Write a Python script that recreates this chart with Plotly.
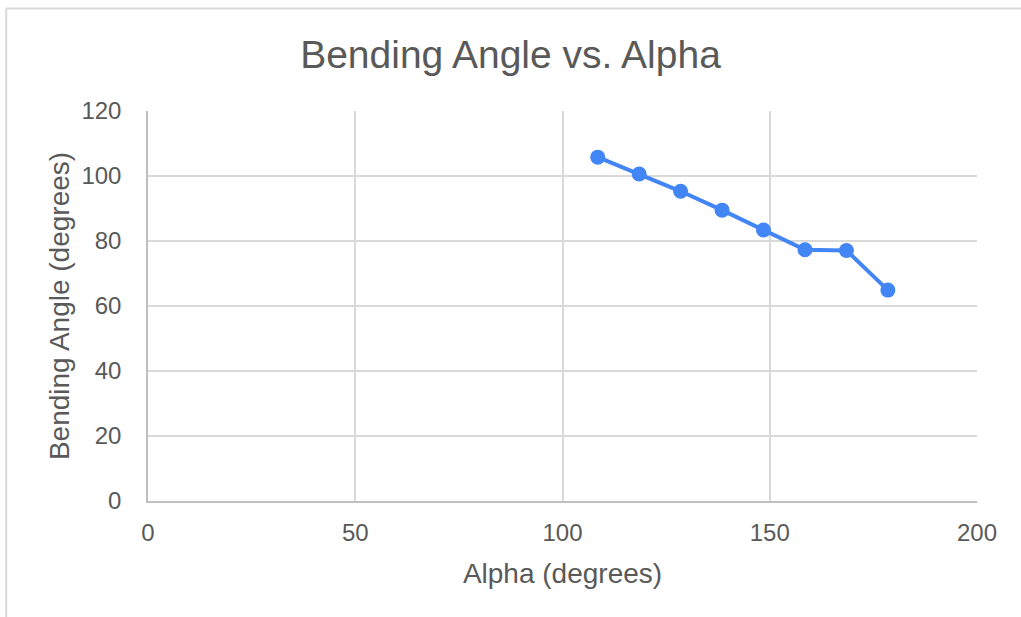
import plotly.graph_objects as go

alpha = [108.5, 118.5, 128.5, 138.5, 148.5, 158.5, 168.5, 178.5]
bending = [105.8, 100.6, 95.3, 89.5, 83.4, 77.3, 77.1, 64.9]

x_ticks = [0, 50, 100, 150, 200]
y_ticks = [0, 20, 40, 60, 80, 100, 120]

fig = go.Figure()
fig.add_trace(go.Scatter(
    x=alpha, y=bending, mode="lines+markers",
    line=dict(color="#4285F4", width=4),
    marker=dict(color="#4285F4", size=15),
    showlegend=False,
))

W, H = 1021, 617
L, R, T, B = 147.5, 43.5, 111, 116
pw, ph = W - L - R, H - T - B

def px_to_paper_x(px):
    return (px - L) / pw

def px_to_paper_y(py):
    return (H - B - py) / ph

bx = px_to_paper_x(5.5)
by = px_to_paper_y(8.5)

fig.update_layout(
    width=W, height=H,
    margin=dict(l=L, r=R, t=T, b=B, pad=0),
    paper_bgcolor="white", plot_bgcolor="white",
    font=dict(family="Liberation Sans, Arial, sans-serif", color="#595959"),
    title=dict(text="Bending Angle vs. Alpha", x=0.5, xanchor="center",
               y=1 - 54 / H, yanchor="middle",
               font=dict(size=39, color="#595959")),
    xaxis=dict(range=[0, 200], tickvals=x_ticks, ticks="outside",
               tickcolor="rgba(0,0,0,0)", ticklen=9, showgrid=True,
               gridcolor="#d9d9d9", gridwidth=1.5, zeroline=False,
               showline=True, linecolor="#bfbfbf", linewidth=1.5,
               tickfont=dict(size=24),
               title=dict(text="Alpha (degrees)", font=dict(size=28), standoff=19)),
    yaxis=dict(range=[0, 120], tickvals=y_ticks, ticks="outside",
               tickcolor="rgba(0,0,0,0)", ticklen=20, showgrid=True,
               gridcolor="#d9d9d9", gridwidth=1.5, zeroline=False,
               showline=True, linecolor="#bfbfbf", linewidth=1.5,
               tickfont=dict(size=24),
               title=dict(text="Bending Angle (degrees)", font=dict(size=28), standoff=4)),
    shapes=[
        dict(type="line", xref="paper", yref="paper", x0=bx, x1=bx, y0=-1, y1=by,
             line=dict(color="#d9d9d9", width=2)),
        dict(type="line", xref="paper", yref="paper", x0=bx, x1=2, y0=by, y1=by,
             line=dict(color="#d9d9d9", width=2)),
    ],
)

fig.write_html("out.html")
